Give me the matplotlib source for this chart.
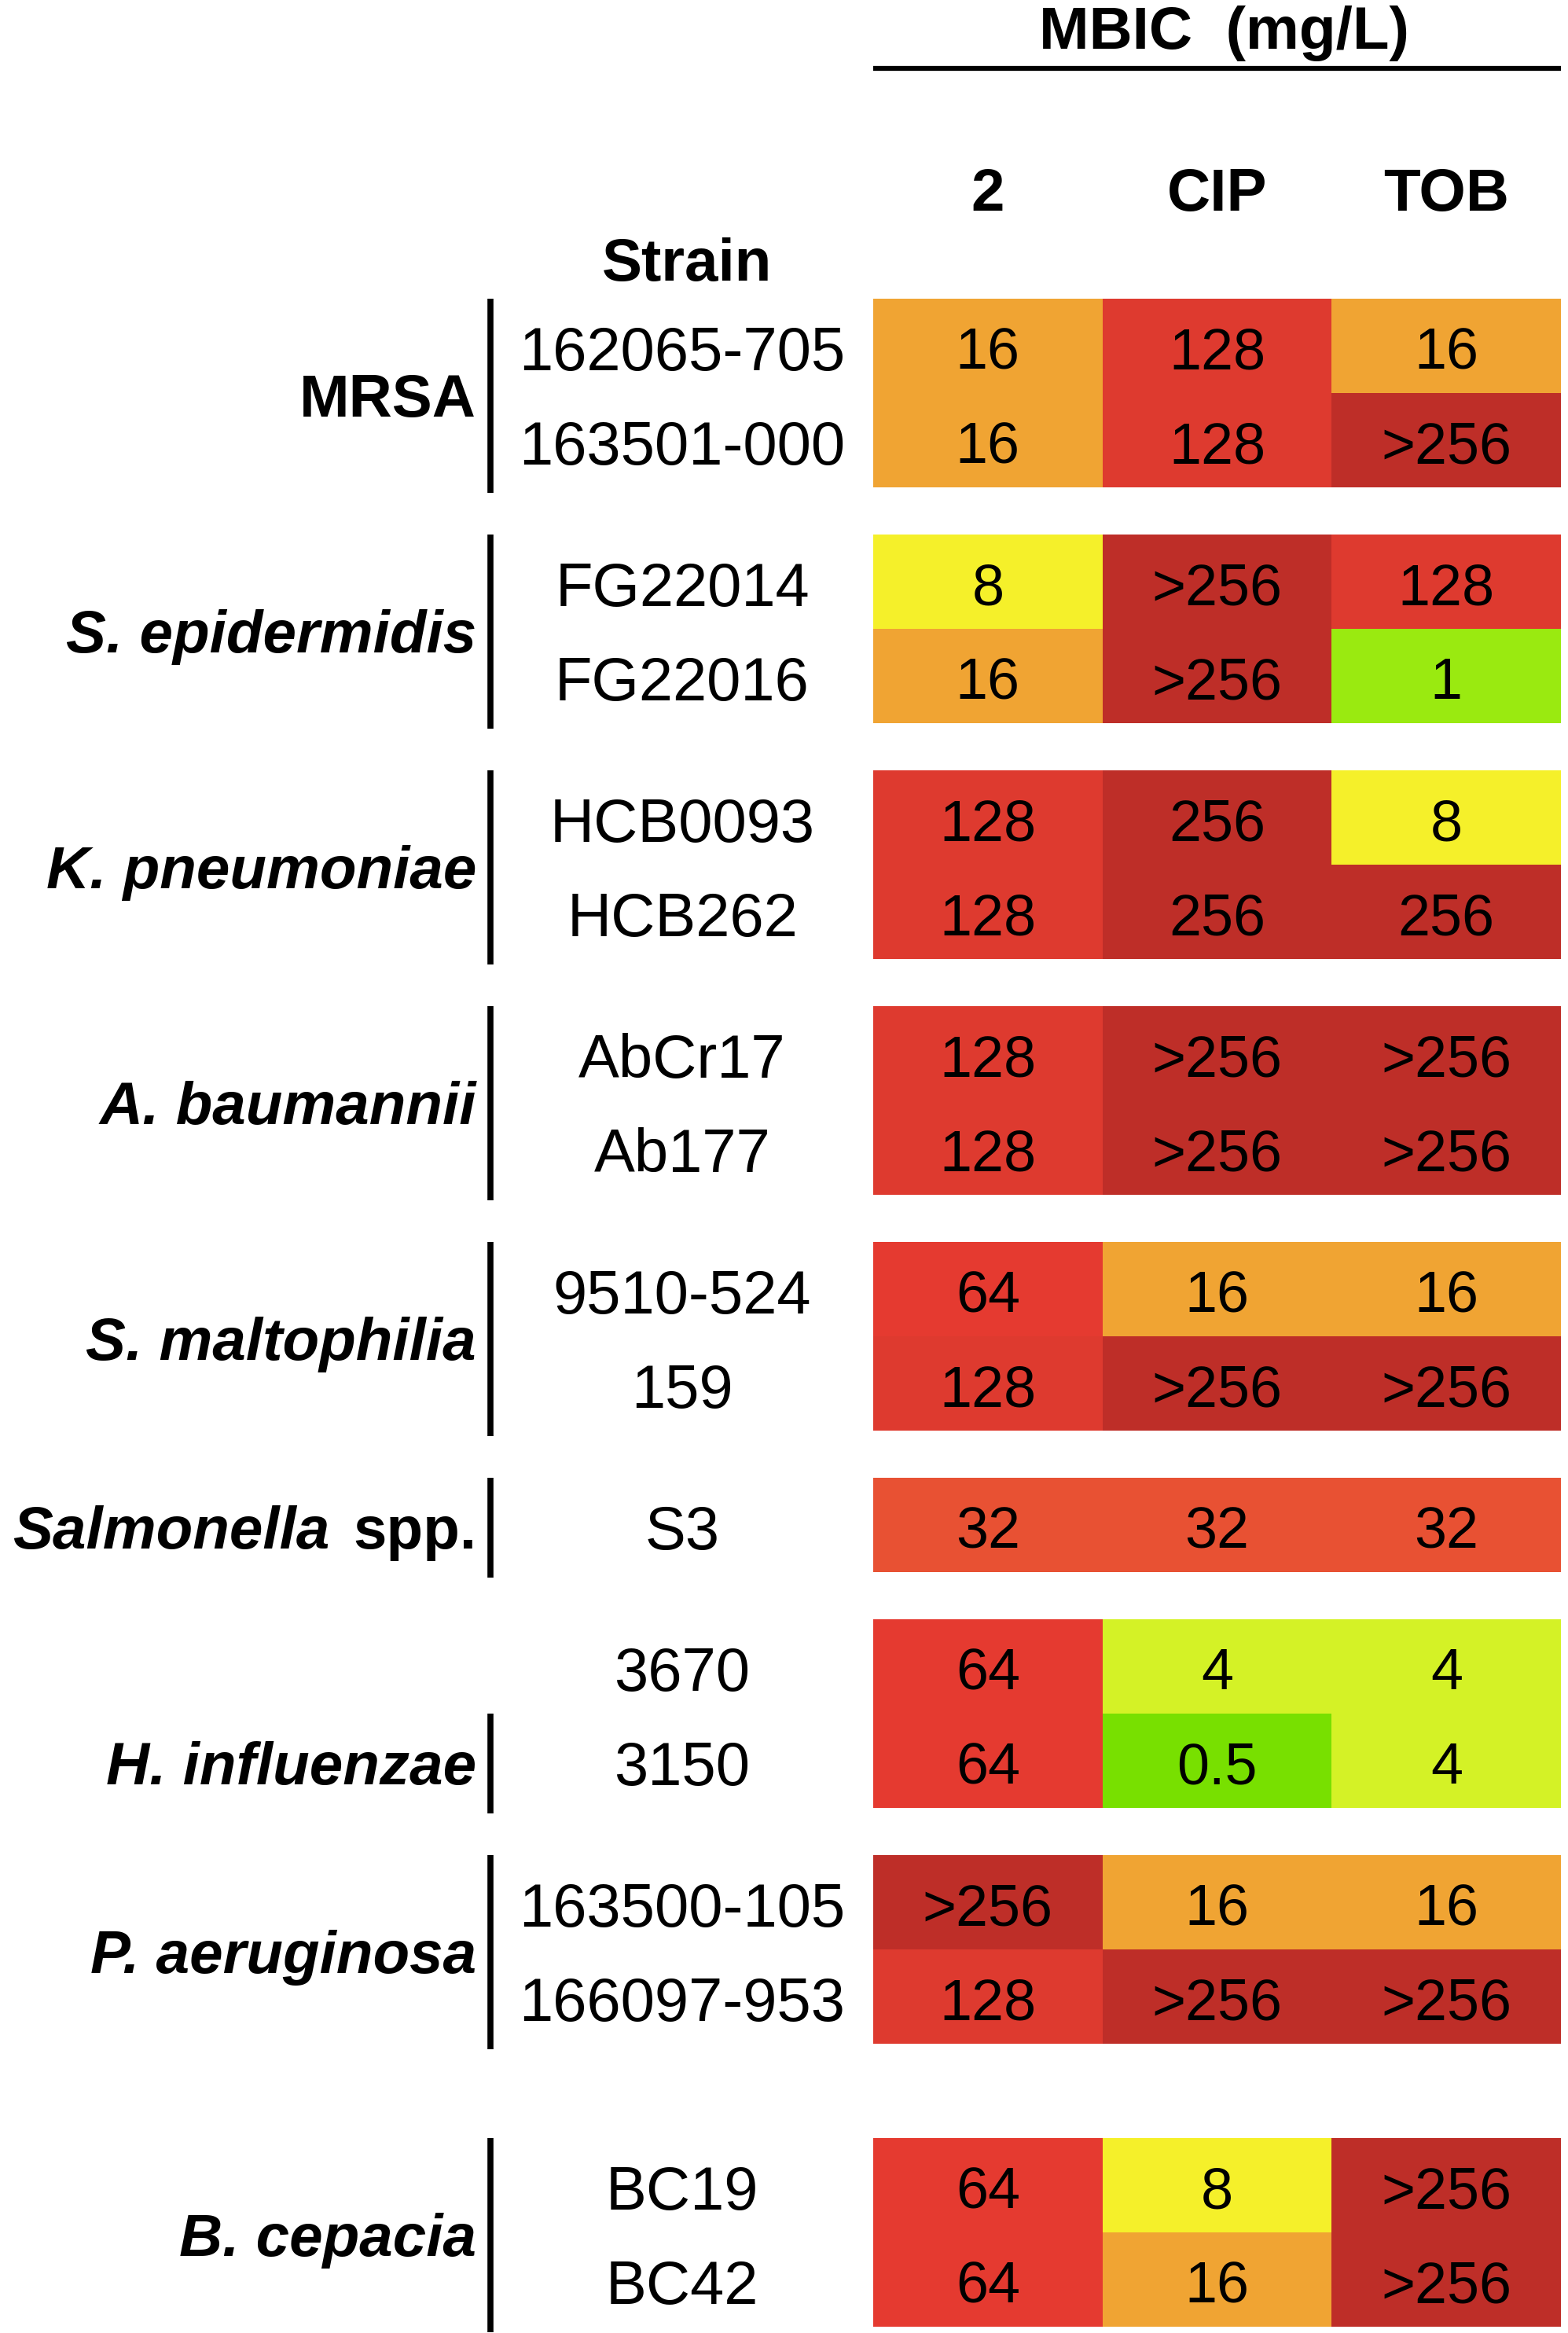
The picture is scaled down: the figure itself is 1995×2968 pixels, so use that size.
import matplotlib
matplotlib.use("Agg")
import matplotlib.pyplot as plt

# -----------------------------
# Data
# -----------------------------
species = ["MRSA", "S. epidermidis", "K. pneumoniae", "A. baumannii",
           "S. maltophilia", "Salmonella spp.", "H. influenzae",
           "P. aeruginosa", "B. cepacia"]
strains = [
    ["162065-705", "163501-000"],
    ["FG22014", "FG22016"],
    ["HCB0093", "HCB262"],
    ["AbCr17", "Ab177"],
    ["9510-524", "159"],
    ["S3"],
    ["3670", "3150"],
    ["163500-105", "166097-953"],
    ["BC19", "BC42"],
]
compounds = ["2", "CIP", "TOB"]
mbic_2 = ["16", "16", "8", "16", "128", "128", "128", "128", "64", "128",
          "32", "64", "64", ">256", "128", "64", "64"]
mbic_cip = ["128", "128", ">256", ">256", "256", "256", ">256", ">256", "16",
            ">256", "32", "4", "0.5", "16", ">256", "8", "16"]
mbic_tob = ["16", ">256", "128", "1", "8", "256", ">256", ">256", "16",
            ">256", "32", "4", "4", "16", ">256", ">256", ">256"]

# -----------------------------
# Styling / layout
# -----------------------------
colors = {
    ">256": "#be2e28", "256": "#be2e28", "128": "#de3a2f", "64": "#e53a30",
    "32": "#e85133", "16": "#f0a433", "8": "#f5f02a", "4": "#d4f226",
    "1": "#9aea10", "0.5": "#78e000",
}
gaps = [0, 0.5, 0.5, 0.5, 0.5, 0.5, 0.5, 0.5, 1.0]
FONT = "Liberation Sans"
W, H = 1995, 2968
x0_px, col_px = 1111, 291.7   # heatmap left edge, column width
y0_px, row_px = 380, 120      # heatmap top edge, row height

fig = plt.figure(figsize=(W / 100, H / 100), dpi=100, facecolor="white")
ax = fig.add_axes([0, 0, 1, 1])
ax.set_xlim(-x0_px / col_px, (W - x0_px) / col_px)
ax.set_ylim((H - y0_px) / row_px, -y0_px / row_px)
ax.axis("off")


def px_x(p):
    return (p - x0_px) / col_px


def px_y(p):
    return (p - y0_px) / row_px


def label(x, yc, s, fs, **kw):
    # put the cap-height centre of the text on yc (row units)
    off = (0.716 * fs * 100 / 72 / 2 + 3) / row_px
    return ax.text(x, yc + off, s, va="baseline", fontsize=fs, family=FONT,
                   **kw)


# -----------------------------
# Heatmap cells
# -----------------------------
columns = [mbic_2, mbic_cip, mbic_tob]
y = 0.0
k = 0
group_rows = []
for g, (sp, st) in enumerate(zip(species, strains)):
    y += gaps[g]
    rows = []
    for name in st:
        for c, col in enumerate(columns):
            val = col[k]
            ax.bar(c, 1, bottom=y, width=1, align="edge", color=colors[val],
                   edgecolor="none")
            label(c + 0.5, y + 0.5, val, 53, ha="center")
        label(px_x(868), y + 0.5, name, 56, ha="center")
        rows.append(y)
        y += 1
        k += 1
    group_rows.append(rows)

# -----------------------------
# Species labels and bars
# -----------------------------
bar_x = px_x(624)
lab_x = px_x(606)
fig.canvas.draw()
renderer = fig.canvas.get_renderer()
inv = ax.transData.inverted()
for sp, rows in zip(species, group_rows):
    top = rows[0]
    if sp == "H. influenzae":
        top = rows[-1]
    bottom = rows[-1] + 1
    ax.plot([bar_x, bar_x], [top, bottom + 0.06], color="black", lw=5.5,
            solid_capstyle="butt")
    yc = (top + bottom) / 2
    if sp == "MRSA":
        label(lab_x, yc, sp, 55, ha="right", fontweight="bold")
    elif sp.endswith("spp."):
        t = label(lab_x, yc, "spp.", 55, ha="right", fontweight="bold")
        bb = t.get_window_extent(renderer)
        left = inv.transform((bb.x0, bb.y0))[0]
        label(left - 30 / col_px, yc, sp.replace(" spp.", ""), 55,
              ha="right", fontweight="bold", fontstyle="italic")
    else:
        label(lab_x, yc, sp, 55, ha="right", fontweight="bold",
              fontstyle="italic")

# -----------------------------
# Headers
# -----------------------------
for c, name in enumerate(compounds):
    label(c + 0.5, px_y(238), name, 55, ha="center", fontweight="bold")
label(px_x(874), px_y(327), "Strain", 55, ha="center", fontweight="bold")
label(1.53, px_y(32), "MBIC  (mg/L)", 55, ha="center", fontweight="bold")
ax.plot([0, 3], [px_y(87), px_y(87)], color="black", lw=4.5,
        solid_capstyle="butt")

fig.savefig("out.png", dpi=100, facecolor="white")
